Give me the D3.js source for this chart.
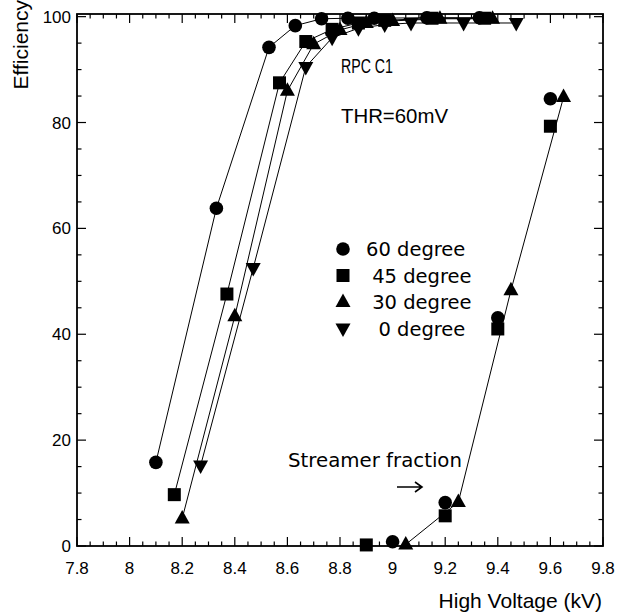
<!DOCTYPE html>
<html>
<head>
<meta charset="utf-8">
<script src="https://cdn.jsdelivr.net/npm/d3@7"></script>
<style>
  body { margin: 0; background: #fff; }
  svg { display: block; }
</style>
</head>
<body>
<svg id="chart" width="619" height="615"></svg>
<script>
// efficiency vs high voltage, RPC C1

// plateau curves
const hv60 = [8.10, 8.33, 8.53, 8.63, 8.73, 8.83, 8.93, 9.13, 9.33];
const eff60 = [15.8, 63.8, 94.2, 98.3, 99.6, 99.7, 99.7, 99.8, 99.8];
const hv45 = [8.17, 8.37, 8.57, 8.67, 8.77, 8.87, 8.97, 9.15, 9.35];
const eff45 = [9.7, 47.6, 87.5, 95.3, 97.6, 98.8, 99.3, 99.7, 99.7];
const hv30 = [8.20, 8.40, 8.60, 8.70, 8.80, 8.90, 9.00, 9.18, 9.38];
const eff30 = [5.2, 43.4, 86.0, 94.8, 97.5, 98.8, 99.2, 99.6, 99.6];
const hv0 = [8.27, 8.47, 8.67, 8.77, 8.87, 8.97, 9.07, 9.27, 9.47];
const eff0 = [15.2, 52.5, 90.5, 96.0, 97.8, 98.5, 98.8, 98.8, 98.8];

// streamer fraction
const strHv60 = [9.00, 9.20, 9.40, 9.60];
const str60 = [0.8, 8.2, 43.1, 84.5];
const strHv45 = [8.90, 9.20, 9.40, 9.60];
const str45 = [0.2, 5.7, 41.0, 79.3];
const strHv30 = [9.05, 9.25, 9.45, 9.65];
const str30 = [0.3, 8.3, 48.3, 84.8];

const xTicks = [7.8, 8, 8.2, 8.4, 8.6, 8.8, 9, 9.2, 9.4, 9.6, 9.8];
const yTicks = [0, 20, 40, 60, 80, 100];
const legendLabels = ["60 degree", " 45 degree", " 30 degree", "  0 degree"];

const svg = d3.select("#chart");

const frameL = 77, frameR = 603, frameT = 14, frameB = 546;

const x = d3.scaleLinear().domain([7.8, 9.8]).range([frameL, frameR]);
const y = d3.scaleLinear().domain([0, 100.5]).range([frameB, frameT]);

const zip = (a, b) => a.map((v, i) => [v, b[i]]);

// marker shapes
function marker(g, type, px, py) {
        if (type == "circle") {
                g.append("circle").attr("cx", px).attr("cy", py).attr("r", 6.8).attr("fill", "#000");
        } else if (type == "square") {
                g.append("rect").attr("x", px - 6.5).attr("y", py - 6.5)
                        .attr("width", 13).attr("height", 13).attr("fill", "#000");
        } else if (type == "up") {
                g.append("path").attr("fill", "#000")
                        .attr("d", `M${px},${py - 8.5}L${px + 7.5},${py + 5}L${px - 7.5},${py + 5}Z`);
        } else {
                g.append("path").attr("fill", "#000")
                        .attr("d", `M${px},${py + 8.5}L${px + 7.5},${py - 5}L${px - 7.5},${py - 5}Z`);
        }
}

const line = d3.line().x(d => x(d[0])).y(d => y(d[1]));

const series = [
        { pts: zip(hv60, eff60), type: "circle", line: true },
        { pts: zip(hv45, eff45), type: "square", line: true },
        { pts: zip(hv30, eff30), type: "up", line: true },
        { pts: zip(hv0, eff0), type: "down", line: true },
        { pts: zip(strHv60, str60), type: "circle", line: false },
        { pts: zip(strHv45, str45), type: "square", line: false },
        { pts: zip(strHv30, str30), type: "up", line: true }
];

const plot = svg.append("g");

series.filter(s => s.line).forEach(s => {
        plot.append("path")
                .attr("d", line(s.pts))
                .attr("fill", "none")
                .attr("stroke", "#000")
                .attr("stroke-width", 1);
});

series.forEach(s => {
        s.pts.forEach(p => marker(plot, s.type, x(p[0]), y(p[1])));
});

// frame and ticks (inward, all four sides)
const axes = svg.append("g").attr("stroke", "#000");

const xMinor = d3.range(0, 41).map(i => 7.8 + i * 0.05);
xMinor.forEach((v, i) => {
        const len = (i % 4 == 0) ? 9 : 4.5;
        axes.append("line").attr("x1", x(v)).attr("x2", x(v))
                .attr("y1", frameB).attr("y2", frameB - len).attr("stroke-width", 1.2);
        axes.append("line").attr("x1", x(v)).attr("x2", x(v))
                .attr("y1", frameT).attr("y2", frameT + len).attr("stroke-width", 1.2);
});

const yMinor = d3.range(0, 21).map(i => i * 5);
yMinor.forEach((v, i) => {
        const len = (i % 4 == 0) ? 9 : 4.5;
        axes.append("line").attr("x1", frameL).attr("x2", frameL + len)
                .attr("y1", y(v)).attr("y2", y(v)).attr("stroke-width", 1.2);
        axes.append("line").attr("x1", frameR).attr("x2", frameR - len)
                .attr("y1", y(v)).attr("y2", y(v)).attr("stroke-width", 1.2);
});

axes.append("rect")
        .attr("x", frameL).attr("y", frameT)
        .attr("width", frameR - frameL).attr("height", frameB - frameT)
        .attr("fill", "none")
        .attr("stroke-width", 1.8);

// tick labels
const labelFont = "'Liberation Sans', Arial, sans-serif";

svg.append("g").selectAll("text").data(xTicks).join("text")
        .attr("x", d => x(d))
        .attr("y", 574)
        .attr("text-anchor", "middle")
        .attr("font-family", labelFont)
        .attr("font-size", "17px")
        .text(d => d3.format("~g")(d));

svg.append("g").selectAll("text").data(yTicks).join("text")
        .attr("x", 71)
        .attr("y", d => y(d) + 6)
        .attr("text-anchor", "end")
        .attr("font-family", labelFont)
        .attr("font-size", "17px")
        .text(d => d);

// axis titles
svg.append("text")
        .attr("x", 602).attr("y", 608)
        .attr("text-anchor", "end")
        .attr("font-family", labelFont)
        .attr("font-size", "21px")
        .text("High Voltage (kV)");

svg.append("text")
        .attr("transform", "translate(28,0) rotate(-90)")
        .attr("text-anchor", "end")
        .attr("font-family", labelFont)
        .attr("font-size", "21px")
        .text("Efficiency");

// annotations
svg.append("text")
        .attr("x", 341).attr("y", 73)
        .attr("font-family", labelFont)
        .attr("font-size", "21px")
        .attr("textLength", 52).attr("lengthAdjust", "spacingAndGlyphs")
        .text("RPC C1");

svg.append("text")
        .attr("x", 341).attr("y", 123)
        .attr("font-family", labelFont)
        .attr("font-size", "21px")
        .attr("textLength", 107).attr("lengthAdjust", "spacingAndGlyphs")
        .text("THR=60mV");

const gothic = "'DejaVu Sans', sans-serif";

svg.append("text")
        .attr("x", 288).attr("y", 467)
        .attr("font-family", gothic)
        .attr("font-size", "19px")
        .attr("textLength", 174).attr("lengthAdjust", "spacingAndGlyphs")
        .text("Streamer fraction");

// arrow
const ay = 487;
svg.append("path")
        .attr("d", `M397,${ay}H422M415,${ay - 5}L422,${ay}L415,${ay + 5}`)
        .attr("fill", "none")
        .attr("stroke", "#000")
        .attr("stroke-width", 1.6);

// legend
const legendTypes = ["circle", "square", "up", "down"];
const legend = svg.append("g");
legendLabels.forEach((lab, i) => {
        const ly = 249 + i * 26.5;
        marker(legend, legendTypes[i], 343, ly);
        legend.append("text")
                .attr("x", 366).attr("y", ly + 7)
                .attr("font-family", gothic)
                .attr("font-size", "19.5px")
                .attr("xml:space", "preserve")
                .style("white-space", "pre")
                .text(lab);
});
</script>
</body>
</html>
